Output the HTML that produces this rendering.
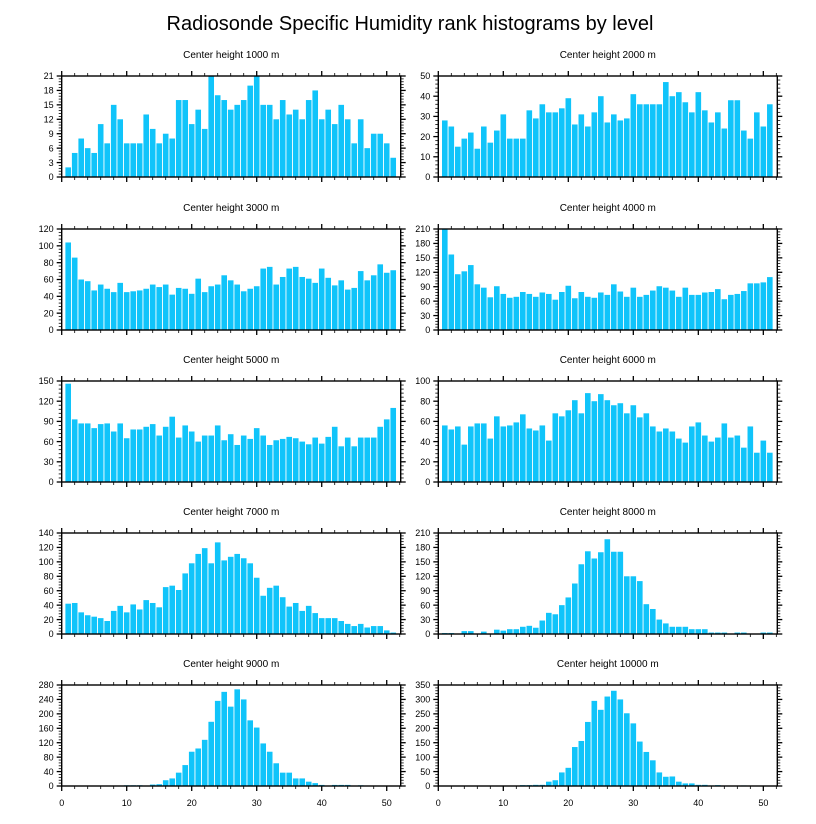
<!DOCTYPE html>
<html><head><meta charset="utf-8"><style>
body{margin:0;background:#fff;width:816px;height:824px;overflow:hidden}
svg{display:block}
text{font-family:"Liberation Sans",Arial,sans-serif}
</style></head><body>
<svg id="chart" width="816" height="824" viewBox="0 0 816 824">
<text x="410" y="30" text-anchor="middle" font-size="20">Radiosonde Specific Humidity rank histograms by level</text>
</svg>
<script>
const levels=["1000","2000","3000","4000","5000","6000","7000","8000","9000","10000"];
const yMaxes=[21,50,120,210,150,100,140,210,280,350];
const ySteps=[3,10,20,30,30,20,20,30,40,50];
const xTicks=[0,10,20,30,40,50];
const h1000=[2,5,8,6,5,11,7,15,12,7,7,7,13,10,7,9,8,16,16,11,14,10,21,17,16,14,15,16,19,21,15,15,12,16,13,14,12,16,18,12,14,11,15,12,7,12,6,9,9,7,4];
const h2000=[28,25,15,19,22,14,25,17,23,31,19,19,19,33,29,36,32,32,34,39,26,31,25,32,40,27,31,28,29,41,36,36,36,36,47,40,42,37,32,42,33,27,32,24,38,38,23,19,32,25,36];
const h3000=[104,86,60,58,47,54,49,45,56,45,46,47,49,54,51,54,42,50,49,43,61,45,52,54,65,59,54,46,49,52,73,75,54,63,73,75,63,61,56,73,62,53,59,48,50,70,59,65,78,68,71];
const h4000=[210,157,116,122,135,95,88,68,91,75,67,69,79,75,69,78,75,63,79,92,66,79,69,67,78,73,95,80,69,88,69,73,82,91,88,82,69,88,73,73,78,79,85,64,73,75,81,97,97,99,110];
const h5000=[146,93,87,87,80,86,87,75,87,65,78,78,82,86,69,82,97,66,84,75,60,69,69,84,62,71,55,69,64,80,69,55,62,64,67,65,60,56,66,57,67,82,53,66,53,66,66,66,82,93,110];
const h6000=[56,52,55,37,55,58,58,43,65,55,56,59,67,53,51,56,41,68,65,71,81,68,88,80,87,81,76,78,68,76,64,68,55,50,53,50,43,39,55,59,46,40,44,58,44,46,34,55,29,41,29];
const h7000=[42,43,30,26,24,22,18,32,39,30,41,34,47,43,37,65,67,61,84,98,111,119,98,127,102,107,111,105,98,78,53,64,67,51,38,43,32,39,29,22,22,22,18,14,11,14,9,11,11,5,2];
const h8000=[2,2,0,6,6,0,5,0,9,7,10,10,15,17,13,28,44,41,60,76,105,145,172,157,170,197,171,171,120,120,110,62,52,30,22,15,15,15,10,10,10,3,3,3,0,3,3,0,0,3,3];
const h9000=[0,0,0,0,0,0,0,0,0,2,2,2,0,4,5,16,21,37,58,95,104,128,178,236,261,220,268,240,182,162,118,95,63,37,37,21,21,12,8,3,1,3,3,3,0,2,0,0,0,0,0];
const h10000=[0,0,0,0,0,0,0,0,0,0,0,0,3,3,4,4,15,20,47,63,135,156,222,295,264,310,330,300,252,217,154,118,89,47,32,33,15,9,9,4,4,2,3,0,0,0,2,0,0,0,0];
const series=[h1000,h2000,h3000,h4000,h5000,h6000,h7000,h8000,h9000,h10000];

const NS="http://www.w3.org/2000/svg";
const svg=document.getElementById("chart");
function mk(tag,attrs,parent){const e=document.createElementNS(NS,tag);for(const k in attrs)e.setAttribute(k,attrs[k]);(parent||svg).appendChild(e);return e;}
const lefts=[61.7,438.3], W=339, tops=[76,229,381,533,685], H=101, XMAX=52.15;

series.forEach((vals,i)=>{
  const col=i%2,row=Math.floor(i/2);
  const x0=lefts[col],y0=tops[row];
  const g=mk("g",{});
  
  
  const xs=v=>x0+v/XMAX*W;
  const ys=v=>y0+H-v/yMaxes[i]*H;
  const t=mk("text",{x:x0+W/2,y:y0-18,"text-anchor":"middle","font-size":"10"},g);
  t.textContent="Center height "+levels[i]+" m";
  
  
  vals.forEach((v,k)=>{
    if(v<=0)return;
    const r=mk("rect",{x:xs(k+1)-2.8,y:ys(v),width:5.6,height:ys(0)-ys(v),fill:"#10c4fa"},g);
    
    
  });
  const fr=mk("rect",{x:x0,y:y0,width:W,height:H,fill:"none",stroke:"#000","stroke-width":"1.4"},g);
  
  
  // x ticks
  for(let v=0;v<=52;v+=2){
    const maj=v%10===0,L=maj?5:3,x=xs(v);
    mk("line",{x1:x,x2:x,y1:y0+H,y2:y0+H+L,stroke:"#000","stroke-width":maj?1.3:0.8},g);
    mk("line",{x1:x,x2:x,y1:y0,y2:y0-L,stroke:"#000","stroke-width":maj?1.3:0.8},g);
  }
  if(row===4){
    xTicks.forEach(v=>{
      const tl=mk("text",{x:xs(v),y:y0+H+20,"text-anchor":"middle","font-size":"9"},g);
      tl.textContent=v;
      
      
    });
  }
  const st=ySteps[i],mn=st/5;
  for(let v=0;v<=yMaxes[i]+1e-6;v+=mn){
    const maj=Math.abs(v/st-Math.round(v/st))<1e-6,L=maj?5:3,y=ys(v);
    mk("line",{x1:x0,x2:x0-L,y1:y,y2:y,stroke:"#000","stroke-width":maj?1.3:0.8},g);
    mk("line",{x1:x0+W,x2:x0+W+L,y1:y,y2:y,stroke:"#000","stroke-width":maj?1.3:0.8},g);
  }
  for(let v=0;v<=yMaxes[i]+1e-6;v+=st){
    const yl=mk("text",{x:x0-8,y:ys(v)+3.2,"text-anchor":"end","font-size":"9"},g);
    yl.textContent=Math.round(v);
    
    
  }
});
</script>
</body></html>
